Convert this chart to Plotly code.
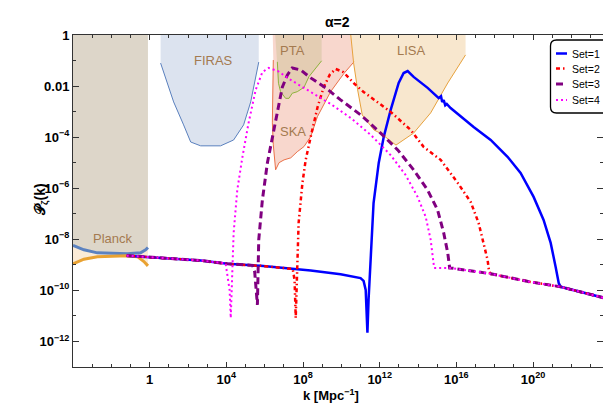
import numpy as np
import plotly.graph_objects as go

# ---------------- curvature power spectra (log10 k [Mpc^-1], log10 P) ----------------
# shared slow-roll plateau before the enhancement
base_lk = [-1.20, 0.00, 2.66, 4.05, 5.79, 8.40, 8.92]
base_lP = [-8.64, -8.70, -8.83, -8.96, -9.04, -9.22, -9.26]

# shared tail after the enhancement
tail_lk = [14.84, 15.70, 17.79, 19.87, 21.44, 22.48, 23.68]
tail_lP = [-9.12, -9.12, -9.35, -9.67, -9.86, -10.06, -10.29]

set1_lk = [8.92, 9.96, 11.00, 11.16, 11.27, 11.36, 11.42, 11.53, 11.68, 11.95, 12.21, 12.57,
           12.99, 13.25, 13.46, 13.77, 14.50, 15.08, 15.20, 15.26, 15.34, 15.42, 15.50, 15.70,
           16.12, 16.90, 17.79, 18.67, 19.35, 20.03, 20.55, 20.92, 21.18, 21.34, 21.44]
set1_lP = [-9.26, -9.37, -9.52, -9.63, -9.98, -11.66, -10.37, -8.53, -6.58, -5.01, -3.99, -2.94,
           -1.88, -1.49, -1.41, -1.64, -2.07, -2.47, -2.40, -2.62, -2.55, -2.75, -2.70, -2.86,
           -3.13, -3.60, -4.11, -4.77, -5.40, -6.34, -7.24, -8.14, -9.08, -9.71, -9.86]

set2_lk = [7.46, 7.56, 7.62, 7.70, 7.77, 7.97, 8.14, 8.40, 8.76, 9.08, 9.40, 9.70, 10.10,
           10.64, 11.16, 12.57, 13.62, 14.29, 15.18, 16.07, 16.75, 17.16, 17.42, 17.63, 17.71]
set2_lP = [-9.16, -9.59, -11.08, -9.20, -7.36, -5.79, -4.89, -3.99, -2.82, -2.04, -1.55, -1.33, -1.45,
           -1.88, -2.23, -3.01, -3.72, -4.38, -4.89, -5.79, -6.54, -7.36, -8.14, -8.81, -9.28]

set3_lk = [5.37, 5.48, 5.62, 5.69, 5.88, 6.14, 6.40, 6.73, 6.92, 7.18, 7.44, 7.88, 8.40,
           9.18, 9.96, 11.01, 12.05, 12.94, 13.77, 14.50, 15.02, 15.34, 15.55, 15.65]
set3_lP = [-9.02, -9.28, -10.57, -8.02, -6.46, -5.01, -3.99, -2.82, -2.04, -1.57, -1.29, -1.37, -1.68,
           -2.07, -2.54, -3.13, -3.84, -4.50, -5.28, -6.07, -6.85, -7.75, -8.53, -9.12]

set4_lk = [3.96, 4.17, 4.23, 4.31, 4.38, 4.57, 4.84, 5.16, 5.53, 5.88, 6.21, 6.68, 7.36,
           8.40, 9.44, 10.49, 11.53, 12.57, 13.35, 13.98, 14.40, 14.66, 14.81, 14.84]
set4_lP = [-8.94, -9.98, -11.08, -9.20, -7.75, -6.07, -4.77, -3.44, -2.15, -1.45, -1.29, -1.41, -1.76,
           -2.23, -2.70, -3.25, -3.91, -4.70, -5.48, -6.34, -7.12, -8.02, -9.00, -9.12]

set_names = ["Set=1", "Set=2", "Set=3", "Set=4"]
set_colors = ["#0000ff", "#ff0000", "#800080", "#ff00ff"]
set_dashes = ["solid", "4px,3px,1.5px,3px", "7px,4px", "2px,3px"]
set_widths = [2.5, 2.5, 3, 2]

# ---------------- observational constraints (log10 k, log10 P) ----------------
planck_up_lk = [-4.00, -3.43, -2.73, -1.16, -0.47, -0.21, -0.09]
planck_up_lP = [-8.24, -8.41, -8.53, -8.57, -8.53, -8.41, -8.32]
planck_lo_lk = [-4.00, -3.43, -2.73, -1.16, -0.64, -0.30, -0.09]
planck_lo_lP = [-8.96, -8.78, -8.68, -8.64, -8.68, -8.87, -9.04]

firas_lk = [0.57, 0.83, 1.25, 1.77, 2.14, 2.66, 3.70, 4.38, 4.90, 5.27, 5.53, 5.69]
firas_lP = [-1.10, -1.68, -2.62, -3.52, -4.19, -4.34, -4.34, -4.11, -3.52, -2.62, -1.68, -1.06]

ska_lk = [6.45, 6.42, 6.40, 6.45, 6.52, 6.57, 6.75, 7.01, 7.36, 7.70, 8.05, 8.40, 8.75, 9.44, 10.14, 10.66]
ska_lP = [-0.98, -2.20, -3.44, -4.30, -5.01, -5.28, -5.00, -4.89, -4.81, -4.57, -4.37, -3.98, -3.20,
          -2.22, -1.50, -1.05]

pta_lk = [6.66, 6.72, 6.83, 7.09, 7.27, 7.44, 7.70, 8.05, 8.31, 8.49, 8.97]
pta_lP = [-1.05, -1.89, -2.22, -2.48, -2.48, -2.28, -2.22, -2.05, -1.63, -1.45, -1.01]

lisa_lk = [10.49, 10.64, 10.85, 11.09, 11.70, 12.05, 12.85, 13.77, 14.66, 15.55, 16.48]
lisa_lP = [0.00, -1.10, -2.15, -3.13, -3.72, -3.85, -4.31, -3.84, -3.05, -1.88, -0.78]

region_labels = ["Planck", "FIRAS", "PTA", "SKA", "LISA"]
region_label_lk = [-1.93, 3.32, 7.46, 7.46, 13.67]
region_label_lP = [-7.95, -0.98, -0.59, -3.76, -0.59]

x_tick_exp = [0, 4, 8, 12, 16, 20]
y_tick_exp = [0, -2, -4, -6, -8, -10, -12]


def assemble(lk, lP):
    """Join a set's enhancement onto the shared plateau and tail."""
    blk, blP = np.array(base_lk), np.array(base_lP)
    tlk, tlP = np.array(tail_lk), np.array(tail_lP)
    lk, lP = np.array(lk), np.array(lP)
    pre = blk < lk[0]
    post = tlk > lk[-1]
    x = np.concatenate([blk[pre], lk, tlk[post]])
    y = np.concatenate([blP[pre], lP, tlP[post]])
    return 10.0 ** x, 10.0 ** y


def region(lk, lP, left=None, right=None, top=0.0):
    """Closed polygon from a sensitivity curve up to the top of the frame."""
    lk, lP = list(lk), list(lP)
    x0 = lk[0] if left is None else left
    x1 = lk[-1] if right is None else right
    xs = [x0] + lk + [x1, x0]
    ys = [top] + lP + [top, top]
    return 10.0 ** np.array(xs), 10.0 ** np.array(ys)


fig = go.Figure()

# ---- shaded exclusion / sensitivity regions ----
pu_x, pu_y = 10.0 ** np.array(planck_up_lk), 10.0 ** np.array(planck_up_lP)
pl_x, pl_y = 10.0 ** np.array(planck_lo_lk), 10.0 ** np.array(planck_lo_lP)

fig.add_trace(go.Scatter(
    x=np.concatenate([[pu_x[0]], pu_x, [pu_x[-1], pu_x[0]]]),
    y=np.concatenate([[1.0], pu_y, [1.0, 1.0]]),
    fill="toself", fillcolor="rgb(221,214,201)", line=dict(width=0),
    mode="lines", hoverinfo="skip", showlegend=False))
fig.add_trace(go.Scatter(
    x=np.concatenate([pu_x, pl_x[::-1]]), y=np.concatenate([pu_y, pl_y[::-1]]),
    fill="toself", fillcolor="rgb(251,235,215)", line=dict(width=0),
    mode="lines", hoverinfo="skip", showlegend=False))

fx, fy = region(firas_lk, firas_lP)
fig.add_trace(go.Scatter(x=fx, y=fy, fill="toself", fillcolor="rgb(220,227,239)",
                         line=dict(width=0), mode="lines", hoverinfo="skip", showlegend=False))
sx, sy = region(ska_lk, ska_lP, left=6.42)
fig.add_trace(go.Scatter(x=sx, y=sy, fill="toself", fillcolor="rgb(248,215,205)",
                         line=dict(width=0), mode="lines", hoverinfo="skip", showlegend=False))
tx, ty = region(pta_lk, pta_lP, left=6.55)
fig.add_trace(go.Scatter(x=tx, y=ty, fill="toself", fillcolor="rgb(228,205,179)",
                         line=dict(width=0), mode="lines", hoverinfo="skip", showlegend=False))
lx_, ly_ = region(lisa_lk, lisa_lP)
fig.add_trace(go.Scatter(x=lx_, y=ly_, fill="toself", fillcolor="rgb(248,231,206)",
                         line=dict(width=0), mode="lines", hoverinfo="skip", showlegend=False))

# ---- region outlines ----
outlines = [
    (firas_lk, firas_lP, "#5a80be", 1),
    (ska_lk, ska_lP, "#ea714a", 1),
    (pta_lk, pta_lP, "#8db33c", 1),
    (lisa_lk, lisa_lP, "#e7a23d", 1),
    (planck_up_lk, planck_up_lP, "#5b82c0", 3),
    (planck_lo_lk, planck_lo_lP, "#e9a232", 3),
]
for olk, olP, col, w in outlines:
    fig.add_trace(go.Scatter(x=10.0 ** np.array(olk), y=10.0 ** np.array(olP), mode="lines",
                             line=dict(color=col, width=w), hoverinfo="skip", showlegend=False))

# ---- spectra ----
for lk, lP, name, col, dash, w in zip([set1_lk, set2_lk, set3_lk, set4_lk],
                                      [set1_lP, set2_lP, set3_lP, set4_lP],
                                      set_names, set_colors, set_dashes, set_widths):
    kx, py = assemble(lk, lP)
    fig.add_trace(go.Scatter(x=kx, y=py, mode="lines", name=name,
                             line=dict(color=col, width=w, dash=dash), showlegend=False))

# ---- region labels ----
for txt, ax_, ay_ in zip(region_labels, region_label_lk, region_label_lP):
    fig.add_annotation(x=ax_, y=ay_, xref="x", yref="y", text=txt, showarrow=False,
                       font=dict(family="Liberation Sans, Arial", size=13, color="#a47a50"))

# ---- layout geometry (pixels of the 603x418 canvas) ----
W, H = 603, 418
ML, MR, MT, MB = 73, 0, 35, 51
PW, PH = W - ML - MR, H - MT - MB


def px(x):
    return (x - ML) / PW


def py_(y):
    return (H - MB - y) / PH


# ---- legend box (rounded frame, short samples) ----
L, R, T, B, rr = 550.5, 640.0, 40.0, 113.0, 6.0
path = (f"M {px(L + rr)},{py_(T)} L {px(R)},{py_(T)} L {px(R)},{py_(B)} "
        f"L {px(L + rr)},{py_(B)} Q {px(L)},{py_(B)} {px(L)},{py_(B - rr)} "
        f"L {px(L)},{py_(T + rr)} Q {px(L)},{py_(T)} {px(L + rr)},{py_(T)} Z")
fig.add_shape(type="path", path=path, xref="paper", yref="paper",
              line=dict(color="black", width=1.3), fillcolor="white", layer="above")
legend_rows = [53.5, 68.5, 84.0, 100.0]
for name, col, dash, w, yy in zip(set_names, set_colors, set_dashes, set_widths, legend_rows):
    fig.add_shape(type="line", xref="paper", yref="paper", x0=px(556), x1=px(567),
                  y0=py_(yy), y1=py_(yy), line=dict(color=col, width=w, dash=dash), layer="above")
    fig.add_annotation(x=px(570), y=py_(yy), xref="paper", yref="paper", text=name,
                       showarrow=False, xanchor="left", yanchor="middle",
                       font=dict(family="Liberation Sans, Arial", size=10.5, color="black"))

# ---- titles ----
fig.add_annotation(x=px(337), y=py_(12), xref="paper", yref="paper", text="<b>α=2</b>",
                   showarrow=False, font=dict(family="Liberation Sans, Arial", size=14, color="black"))
fig.add_annotation(x=px(331), y=py_(405), xref="paper", yref="paper",
                   text="<b>k [Mpc<sup>−1</sup>]</b>", showarrow=False,
                   font=dict(family="Liberation Sans, Arial", size=13, color="black"))
fig.add_annotation(x=px(30), y=py_(200), xref="paper", yref="paper",
                   text="<b>𝒫<sub>ζ</sub>(k)</b>", showarrow=False, textangle=-90,
                   font=dict(family="Liberation Sans, DejaVu Sans", size=14, color="black"))

tickfont = dict(family="Liberation Sans, Arial", size=13, color="black", weight="bold")
x_ticktext = ["1" if e == 0 else f"10<sup>{e}</sup>" for e in x_tick_exp]
y_ticktext = ["1" if e == 0 else ("0.01" if e == -2 else f"10<sup>−{-e}</sup>") for e in y_tick_exp]

fig.update_layout(
    width=W, height=H, autosize=False,
    margin=dict(l=ML, r=MR, t=MT, b=MB),
    plot_bgcolor="white", paper_bgcolor="white",
    showlegend=False,
    xaxis=dict(type="log", range=[-4, 23.65], showgrid=False, zeroline=False,
               showline=True, linecolor="#333333", linewidth=1, mirror="ticks",
               ticks="inside", ticklen=5, tickcolor="#333333",
               tickmode="array", tickvals=[10.0 ** e for e in x_tick_exp], ticktext=x_ticktext,
               tickfont=tickfont,
               minor=dict(ticks="inside", ticklen=3, tickcolor="#333333", tickmode="array",
                          tickvals=[10.0 ** e for e in range(-4, 24)])),
    yaxis=dict(type="log", range=[-13, 0], showgrid=False, zeroline=False,
               showline=True, linecolor="#333333", linewidth=1, mirror="ticks",
               ticks="inside", ticklen=6, tickcolor="#333333",
               tickmode="array", tickvals=[10.0 ** e for e in y_tick_exp], ticktext=y_ticktext,
               tickfont=tickfont,
               minor=dict(ticks="inside", ticklen=3, tickcolor="#333333", tickmode="array",
                          tickvals=[10.0 ** e for e in range(-13, 1)])),
)

fig.write_html("out.html")
